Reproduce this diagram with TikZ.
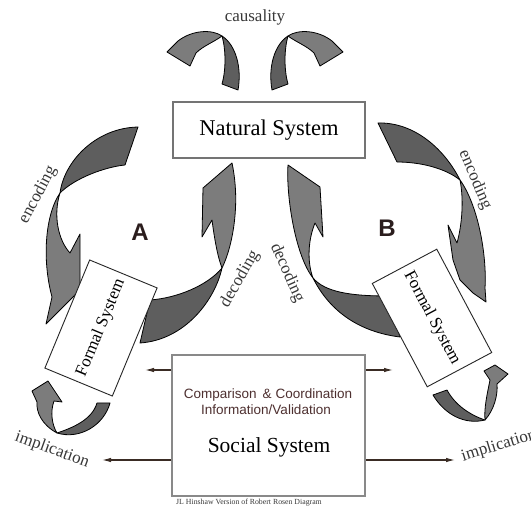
\documentclass[tikz,border=0pt]{standalone}
\usepackage{fontspec}
\setmainfont{Liberation Serif}
\setsansfont{Liberation Sans}
\usetikzlibrary{arrows.meta}

\definecolor{ribbondark}{HTML}{5E5E5E}
\definecolor{ribbonlight}{HTML}{7C7C7C}
\definecolor{boxline}{HTML}{747474}
\definecolor{labelgray}{HTML}{383838}
\definecolor{infobrown}{HTML}{4E3030}
\definecolor{linkbrown}{HTML}{3A2C24}
\definecolor{letterdark}{HTML}{2B1D1D}

\tikzset{
  ribbontail/.style={fill=ribbondark, draw=black, line width=0.8pt, line join=round},
  ribbonhead/.style={fill=ribbonlight, draw=black, line width=0.8pt, line join=round},
  sysbox/.style={draw=boxline, line width=1.2pt, fill=white, inner sep=0pt},
  formalbox/.style={draw=black!85, line width=0.9pt, fill=white, minimum width=117pt,
    minimum height=73pt, inner sep=0pt, font=\fontsize{17}{19}\selectfont},
  flowlabel/.style={text=labelgray, font=\fontsize{17}{19}\selectfont, inner sep=0pt},
  infotext/.style={text=infobrown, font=\sffamily\fontsize{13.5}{15}\selectfont, inner sep=0pt},
  loopletter/.style={font=\sffamily\bfseries\fontsize{24}{26}\selectfont, text=letterdark, inner sep=0pt},
  link/.style={draw=linkbrown, line width=1.1pt, -{Latex[length=9pt,width=4.5pt]}},
}

\begin{document}
\begin{tikzpicture}[x=1pt,y=-1pt]
\useasboundingbox (0,0) rectangle (531,513);
\fill[white] (0,0) rectangle (531,513);

% ---- causality arrows above the natural system ----
\path[ribbontail] (222,84) -- (238,90) .. controls (242,68) and (236,45) .. (222,36)
  .. controls (226,50) and (226,70) .. (222,84) -- cycle;
\path[ribbonhead] (222,36) .. controls (212,29) and (192,30) .. (178,41) -- (167,52) -- (190,66)
  -- (196,53) .. controls (203,46) and (214,42) .. (222,36) -- cycle;
\begin{scope}[shift={(510,0)}, xscale=-1]
\path[ribbontail] (222,84) -- (238,90) .. controls (242,68) and (236,45) .. (222,36)
  .. controls (226,50) and (226,70) .. (222,84) -- cycle;
\path[ribbonhead] (222,36) .. controls (212,29) and (192,30) .. (178,41) -- (167,52) -- (190,66)
  -- (196,53) .. controls (203,46) and (214,42) .. (222,36) -- cycle;
\end{scope}

% ---- loop A: encoding (left) and decoding (right) ----
\path[ribbontail] (138,127) -- (125,165) .. controls (105,167) and (75,178) .. (60,193)
  .. controls (64,162) and (95,128) .. (138,127) -- cycle;
\path[ribbonhead] (60,193) .. controls (45,215) and (42,260) .. (52,297) -- (46,324) -- (80,290)
  -- (80,234) -- (70,253) .. controls (58,240) and (53,215) .. (60,193) -- cycle;

\path[ribbontail] (140,343) .. controls (185,340) and (215,300) .. (222,268)
  .. controls (208,285) and (178,298) .. (150,300) -- cycle;
\path[ribbonhead] (222,268) .. controls (232,248) and (241,205) .. (232,163) -- (203,188) -- (202,237)
  -- (212,220) .. controls (214,235) and (217,255) .. (222,268) -- cycle;

% ---- loop B: encoding (right) and decoding (left) ----
\path[ribbontail] (378,123) .. controls (415,122) and (445,150) .. (460,180)
  .. controls (445,168) and (420,162) .. (397,162) -- cycle;
\path[ribbonhead] (460,180) .. controls (478,205) and (487,255) .. (485,288) -- (486,302) -- (473,293)
  -- (460,280) -- (453,260) -- (448,225) -- (457,243) .. controls (462,225) and (464,200) .. (460,180) -- cycle;

\path[ribbonhead] (313,278) .. controls (295,255) and (286,195) .. (288,165) -- (320,187) -- (323,237)
  -- (315,223) .. controls (308,240) and (307,262) .. (313,278) -- cycle;
\path[ribbontail] (313,278) .. controls (330,312) and (360,332) .. (400,337) -- (388,296)
  .. controls (350,296) and (325,292) .. (313,278) -- cycle;

% ---- implication arrows below the formal systems ----
\path[ribbontail] (110,403) .. controls (104,425) and (80,440) .. (57,433)
  .. controls (72,428) and (92,420) .. (97,403) -- cycle;
\path[ribbonhead] (57,433) .. controls (42,425) and (36,412) .. (37,402) -- (32,391) -- (48,381)
  -- (62,402) -- (54,401) .. controls (50,412) and (52,425) .. (57,433) -- cycle;

\path[ribbontail] (433,395) .. controls (445,415) and (465,425) .. (485,420)
  .. controls (470,415) and (455,405) .. (447,390) -- cycle;
\path[ribbonhead] (485,420) .. controls (494,410) and (498,395) .. (497,384) -- (508,374) -- (495,365)
  -- (484,371) -- (490,380) .. controls (487,395) and (484,408) .. (485,420) -- cycle;

% ---- systems ----
\node[sysbox, minimum width=192pt, minimum height=56pt, font=\fontsize{22.5}{25}\selectfont]
  (natural) at (269,130) {Natural System};
\node[formalbox, rotate=67.5] (formalA) at (101,328) {Formal System};
\node[formalbox, rotate=-62] (formalB) at (432,318) {Formal System};
\node[sysbox, line width=1.5pt, draw=boxline!85, minimum width=193pt, minimum height=141pt]
  (social) at (268.5,425.5) {};

\node[infotext] (compare) at (268,395) {Comparison\hspace{0.45em}\& Coordination};
\node[infotext] (validate) at (266,410) {Information/Validation};
\node[font=\fontsize{21.5}{24}\selectfont, inner sep=0pt] (socialtitle) at (269,447) {Social System};

% ---- links out of the social system ----
\coordinate (leftup) at (145,370);
\coordinate (leftdown) at (102,460);
\coordinate (rightup) at (393,370);
\coordinate (rightdown) at (455,460);
\draw[link] (social.west |- leftup) -- (leftup);
\draw[link] (social.west |- leftdown) -- (leftdown);
\draw[link] (social.east |- rightup) -- (rightup);
\draw[link] (social.east |- rightdown) -- (rightdown);

% ---- labels ----
\node[flowlabel] (causal) at (255,17) {causality};
\node[flowlabel, rotate=62] (encA) at (38,195) {encoding};
\node[flowlabel, rotate=60] (decA) at (240,279) {decoding};
\node[flowlabel, rotate=-67] (encB) at (475,180) {encoding};
\node[flowlabel, rotate=-66] (decB) at (287,273) {decoding};
\node[flowlabel, rotate=-20] (implA) at (52,450) {implication};
\node[flowlabel, rotate=17] (implB) at (499,446) {implication};

\node[loopletter] (loopA) at (140,232) {A};
\node[loopletter] (loopB) at (387,228) {B};

\node[text=labelgray, font=\fontsize{7.8}{9}\selectfont, inner sep=0pt] (credit) at (249,503)
  {JL Hinshaw Version of Robert Rosen Diagram};
\end{tikzpicture}
\end{document}
